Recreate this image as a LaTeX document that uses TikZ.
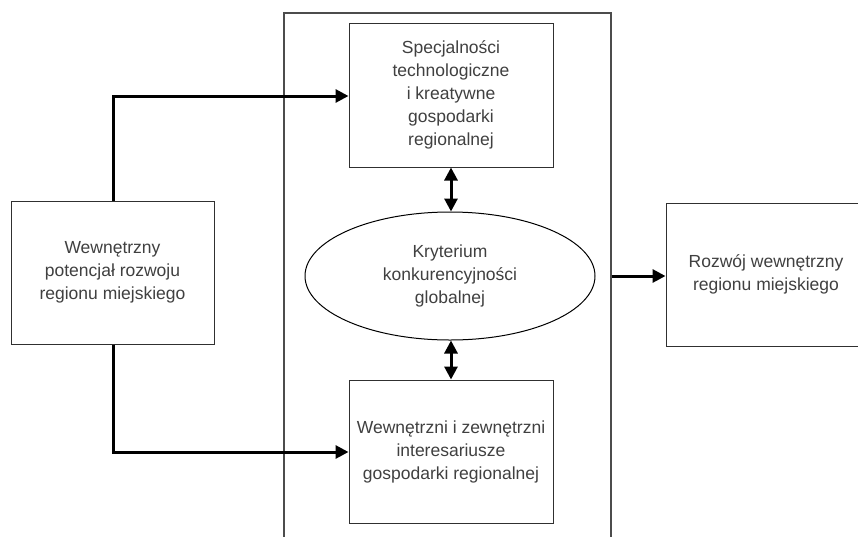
\documentclass[tikz,border=0pt]{standalone}
\usepackage{fontspec}
\setmainfont{Liberation Sans}
\usetikzlibrary{shapes.geometric,arrows.meta}
\definecolor{txt}{HTML}{404040}
\definecolor{bord}{HTML}{303030}
\begin{document}
\begin{tikzpicture}[x=1pt,y=-1pt,
  box/.style={draw=bord,line width=1pt,rectangle,inner sep=0pt,text=txt,align=center,
    font=\fontsize{17.5}{23}\selectfont},
  ell/.style={draw=black,line width=1pt,ellipse,inner sep=0pt,text=txt,align=center,
    font=\fontsize{17.5}{23}\selectfont},
  conn/.style={line width=3pt,-{Triangle[length=13pt,width=13pt]}},
  dconn/.style={line width=3pt,{Triangle[length=13pt,width=13pt]}-{Triangle[length=13pt,width=13pt]}}]
\useasboundingbox (0,0) rectangle (858,536);
\clip (0,0) rectangle (858,536);
\fill[white] (0,0) rectangle (858,536);
% big frame
\node[draw=black!70,line width=1.2pt,minimum width=327pt,minimum height=560pt,inner sep=0pt] (frame) at (447.5,293) {};
\node[box,minimum width=204pt,minimum height=144pt] (top) at (451,95) {Specjalności\\technologiczne\\i kreatywne\\gospodarki\\regionalnej};
\node[box,minimum width=204pt,minimum height=143pt] (bot) at (451,451.5) {Wewnętrzni i zewnętrzni\\interesariusze\\gospodarki regionalnej};
\node[box,minimum width=203pt,minimum height=143pt] (left) at (112.5,272.5) {Wewnętrzny\\potencjał rozwoju\\regionu miejskiego};
\node[box,minimum width=196pt,minimum height=143pt] (right) at (764,274.5) {};
\node[text=txt,align=center,font=\fontsize{17.5}{23}\selectfont] (righttext) at (766,274.5) {Rozwój wewnętrzny\\regionu miejskiego};
\node[ell,minimum width=290pt,minimum height=128pt] (kr) at (450,276) {Kryterium\\konkurencyjności\\globalnej};
\coordinate (lt) at (113,96);
\coordinate (lb) at (113,452);
\draw[conn] (left.north -| lt) -- (lt) -- (lt -| top.west);
\draw[conn] (left.south -| lb) -- (lb) -- (lb -| bot.west);
\draw[dconn] (top.south -| 451,0) -- (kr.north -| 451,0);
\draw[dconn] (kr.south -| 451,0) -- (bot.north -| 451,0);
\draw[conn] (frame.east |- 0,276) -- (right.west |- 0,276);
\end{tikzpicture}
\end{document}
